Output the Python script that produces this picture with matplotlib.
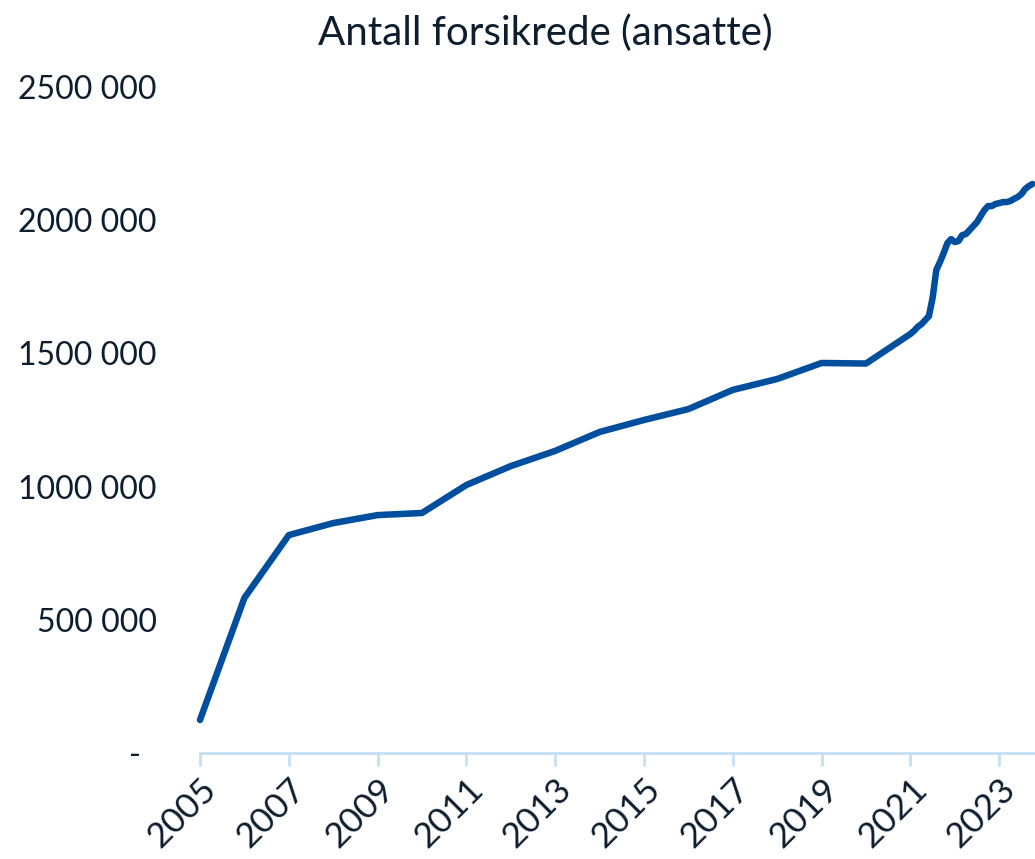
import matplotlib.pyplot as plt
import numpy as np

# Arlige tall 2005-2020, deretter manedlige fra 2021
aar = np.arange(2005, 2021)
forsikrede_aar = [124000, 582000, 818000, 863000, 893000, 901000, 1006000, 1077000,
                  1134000, 1205000, 1250000, 1291000, 1363000, 1404000, 1464000, 1462000]

forsikrede_mnd = [1573000, 1585000, 1600000, 1610000, 1625000, 1640000, 1708000, 1813000,
                  1843000, 1877000, 1914000, 1929000, 1918000, 1922000, 1944000, 1948000,
                  1963000, 1978000, 1993000, 2016000, 2038000, 2053000, 2053000, 2061000,
                  2064000, 2068000, 2068000, 2072000, 2080000, 2087000, 2098000, 2117000,
                  2128000, 2136000]
mnd = 2021 + np.arange(len(forsikrede_mnd)) / 12

x = np.concatenate([aar, mnd])
y = np.concatenate([forsikrede_aar, forsikrede_mnd])

tekst = '#0e1e2e'
akse = '#c5e0f5'

plt.rcParams['font.family'] = ['Lato', 'DejaVu Sans']

fig = plt.figure(figsize=(10.35, 8.59), dpi=100)
ax = fig.add_axes([200/1035, 1 - 753/859, 1 - 200/1035, (753 - 87)/859])

ax.plot(x, y, color='#004f9e', lw=4.7, solid_capstyle='round', clip_on=False)

ax.set_xlim(2005, 2005 + 835/44.4)
ax.set_ylim(0, 2500000)

for s in ['top', 'right', 'left']:
    ax.spines[s].set_visible(False)
ax.spines['bottom'].set_color(akse)
ax.spines['bottom'].set_linewidth(2)

ax.set_xticks(np.arange(2005, 2024, 2))
ax.set_xticklabels([str(a) for a in range(2005, 2024, 2)], rotation=45,
                   ha='right', rotation_mode='anchor')
ax.tick_params(axis='x', length=9, width=2, color=akse, labelsize=25.5,
               labelcolor=tekst, pad=5)

yt = np.arange(0, 2500001, 500000)
ax.set_yticks(yt)
# regnskapsformat: null vises som "-" med litt luft til hoyre
ax.set_yticklabels(['-  ' if v == 0 else f'{v // 1000} {v % 1000:03d}' for v in yt])
ax.tick_params(axis='y', length=0, labelsize=23, labelcolor=tekst, pad=31)

fig.text(545/1035, 1 - 33/859, 'Antall forsikrede (ansatte)', ha='center', va='center',
         fontsize=29, color=tekst)

plt.savefig('out.png')
